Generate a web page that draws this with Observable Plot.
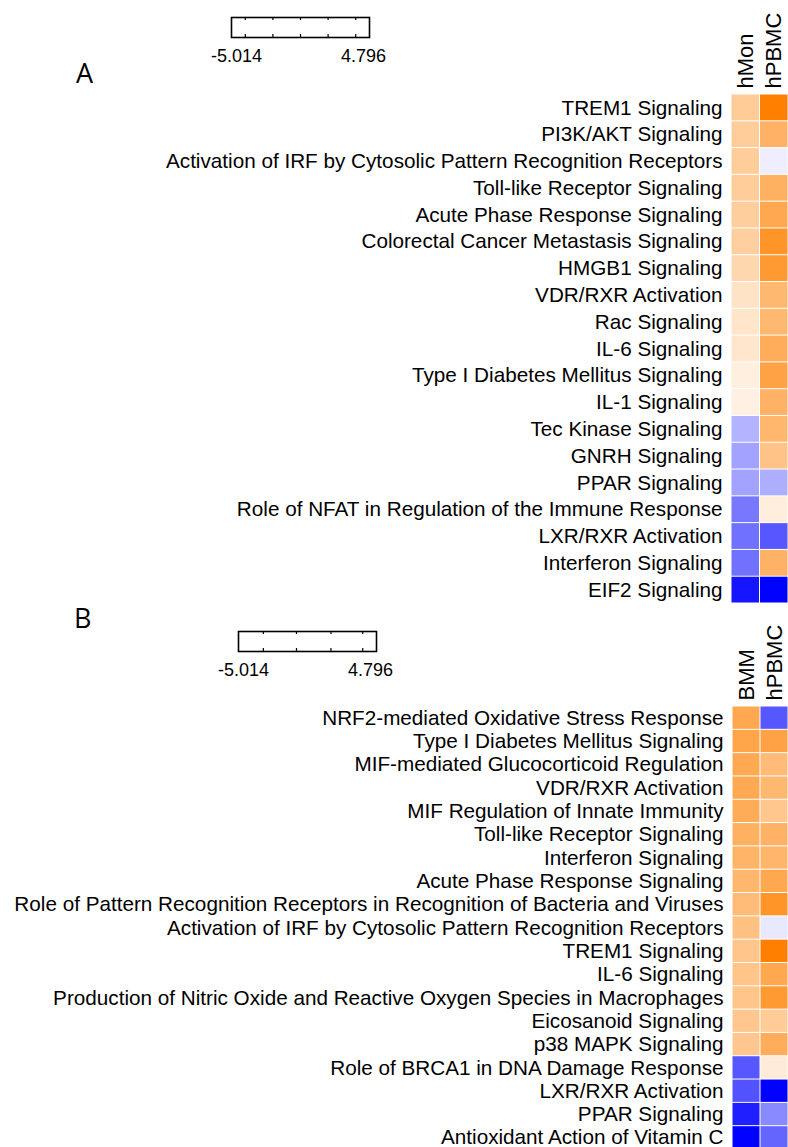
<!DOCTYPE html>
<html>
<head>
<meta charset="utf-8">
<script src="https://cdn.jsdelivr.net/npm/d3@7"></script>
<script src="https://cdn.jsdelivr.net/npm/@observablehq/plot@0.6"></script>
<style>
  html, body { margin: 0; padding: 0; background: #fff; }
  #page { position: relative; width: 788px; height: 1147px; overflow: hidden; background: #fff; font-family: "Liberation Sans", Arial, sans-serif; }
  .abs { position: absolute; }
  .panel-letter { position: absolute; font-family: "Open Sans", "Liberation Sans", sans-serif; font-size: 27px; color: #000; line-height: 1; }
</style>
</head>
<body>
<div id="page"></div>
<script>
// ---------- Data ----------
const legendMin = -5.014;
const legendMax = 4.796;

const colsA = ["hMon", "hPBMC"];
const rowsA = [
  "TREM1 Signaling",
  "PI3K/AKT Signaling",
  "Activation of IRF by Cytosolic Pattern Recognition Receptors",
  "Toll-like Receptor Signaling",
  "Acute Phase Response Signaling",
  "Colorectal Cancer Metastasis Signaling",
  "HMGB1 Signaling",
  "VDR/RXR Activation",
  "Rac Signaling",
  "IL-6 Signaling",
  "Type I Diabetes Mellitus Signaling",
  "IL-1 Signaling",
  "Tec Kinase Signaling",
  "GNRH Signaling",
  "PPAR Signaling",
  "Role of NFAT in Regulation of the Immune Response",
  "LXR/RXR Activation",
  "Interferon Signaling",
  "EIF2 Signaling"
];
const hMonA  = [1.95, 1.9, 1.9, 1.9, 1.85, 1.8, 1.5, 1.05, 1.0, 0.95, 0.6, 0.55, -1.5, -1.8, -1.8, -2.65, -2.8, -2.8, -4.6];
const hPBMCA = [4.8, 2.9, -0.33, 2.95, 3.3, 4.05, 3.85, 2.7, 2.7, 3.1, 3.5, 2.9, 2.75, 2.25, -1.6, 0.65, -3.3, 2.9, -5.0];
const legendTicksA = [-4.033, -2.071, -0.109, 1.853, 3.815];

const colsB = ["BMM", "hPBMC"];
const rowsB = [
  "NRF2-mediated Oxidative Stress Response",
  "Type I Diabetes Mellitus Signaling",
  "MIF-mediated Glucocorticoid Regulation",
  "VDR/RXR Activation",
  "MIF Regulation of Innate Immunity",
  "Toll-like Receptor Signaling",
  "Interferon Signaling",
  "Acute Phase Response Signaling",
  "Role of Pattern Recognition Receptors in Recognition of Bacteria and Viruses",
  "Activation of IRF by Cytosolic Pattern Recognition Receptors",
  "TREM1 Signaling",
  "IL-6 Signaling",
  "Production of Nitric Oxide and Reactive Oxygen Species in Macrophages",
  "Eicosanoid Signaling",
  "p38 MAPK Signaling",
  "Role of BRCA1 in DNA Damage Response",
  "LXR/RXR Activation",
  "PPAR Signaling",
  "Antioxidant Action of Vitamin C"
];
const bmmB   = [3.3, 3.4, 3.25, 3.25, 3.15, 2.95, 2.85, 2.75, 2.55, 2.35, 2.2, 2.2, 2.2, 2.1, 2.1, -3.3, -3.4, -4.4, -5.0];
const hPBMCB = [-3.3, 3.5, 2.55, 2.7, 2.15, 2.9, 2.8, 3.3, 4.05, -0.45, 4.8, 3.3, 3.85, 1.95, 3.1, 0.75, -5.0, -2.3, -3.05];
const legendTicksB = [-3.248, -0.893, 1.560, 3.816];

// ---------- Helpers ----------
const colorScale = {
  type: "linear",
  domain: [legendMin, 0, legendMax],
  range: ["#0000ff", "#ffffff", "#ff8000"],
  clamp: true
};

function tidy(rows, cols, seriesList) {
  const out = [];
  rows.forEach((r, i) => cols.forEach((c, j) => out.push({row: r, col: c, value: seriesList[j][i]})));
  return out;
}

function heatmap(rows, cols, seriesList, opts) {
  return Plot.plot({
    width: 788,
    height: opts.height,
    marginLeft: opts.marginLeft,
    marginRight: 0,
    marginTop: opts.marginTop,
    marginBottom: 0,
    style: {fontFamily: "'Liberation Sans', Arial, sans-serif", fontSize: "20.7px", color: "#000", background: "transparent", overflow: "visible"},
    x: {type: "band", domain: cols, padding: 0, round: false, axis: null},
    y: {type: "band", domain: rows, padding: 0, round: false, label: null, tickSize: 0, tickPadding: 9},
    color: colorScale,
    marks: [
      Plot.cell(tidy(rows, cols, seriesList), {x: "col", y: "row", fill: "value", inset: 0.5}),
      Plot.axisX({anchor: "top", tickRotate: -90, tickSize: 0, tickPadding: 6, label: null, fontSize: 22})
    ]
  });
}

function legendBox(ticks) {
  return Plot.plot({
    width: 200,
    height: 72,
    marginLeft: 30,
    marginRight: 32,
    marginTop: 17,
    marginBottom: 35,
    style: {fontFamily: "'Liberation Sans', Arial, sans-serif", fontSize: "18px", color: "#000", background: "transparent", overflow: "visible"},
    x: {domain: [legendMin, legendMax], axis: null},
    y: {domain: [0, 1], axis: null},
    marks: [
      Plot.frame({stroke: "#000", strokeWidth: 1.6}),
      Plot.ruleX(ticks, {x: d => d, y1: 0.85, y2: 1, stroke: "#000", strokeWidth: 1.2}),
      Plot.ruleX(ticks, {x: d => d, y1: 0, y2: 0.15, stroke: "#000", strokeWidth: 1.2}),
      Plot.text([legendMin], {x: d => d, y: 0, text: d => d.toFixed(3), dy: 19, dx: 5, fill: "#000", fontSize: 18}),
      Plot.text([legendMax], {x: d => d, y: 0, text: d => d.toFixed(3), dy: 19, dx: -6, fill: "#000", fontSize: 18})
    ]
  });
}

function place(node, left, top) {
  node.classList.add("abs");
  node.style.left = left + "px";
  node.style.top = top + "px";
  document.getElementById("page").appendChild(node);
}

// ---------- Panel A ----------
place(heatmap(rowsA, colsA, [hMonA, hPBMCA], {height: 603, marginTop: 94, marginLeft: 731}), 0, 0);
place(legendBox(legendTicksA), 201, 0);
const la = document.createElement("div");
la.className = "panel-letter"; la.textContent = "A";
la.style.left = "76px"; la.style.top = "59px";
document.getElementById("page").appendChild(la);

// ---------- Panel B ----------
place(heatmap(rowsB, colsB, [bmmB, hPBMCB], {height: 546, marginTop: 103, marginLeft: 732}), 0, 603);
place(legendBox(legendTicksB), 208, 614);
const lb = document.createElement("div");
lb.className = "panel-letter"; lb.textContent = "B";
lb.style.left = "74px"; lb.style.top = "604px";
document.getElementById("page").appendChild(lb);
</script>
</body>
</html>
